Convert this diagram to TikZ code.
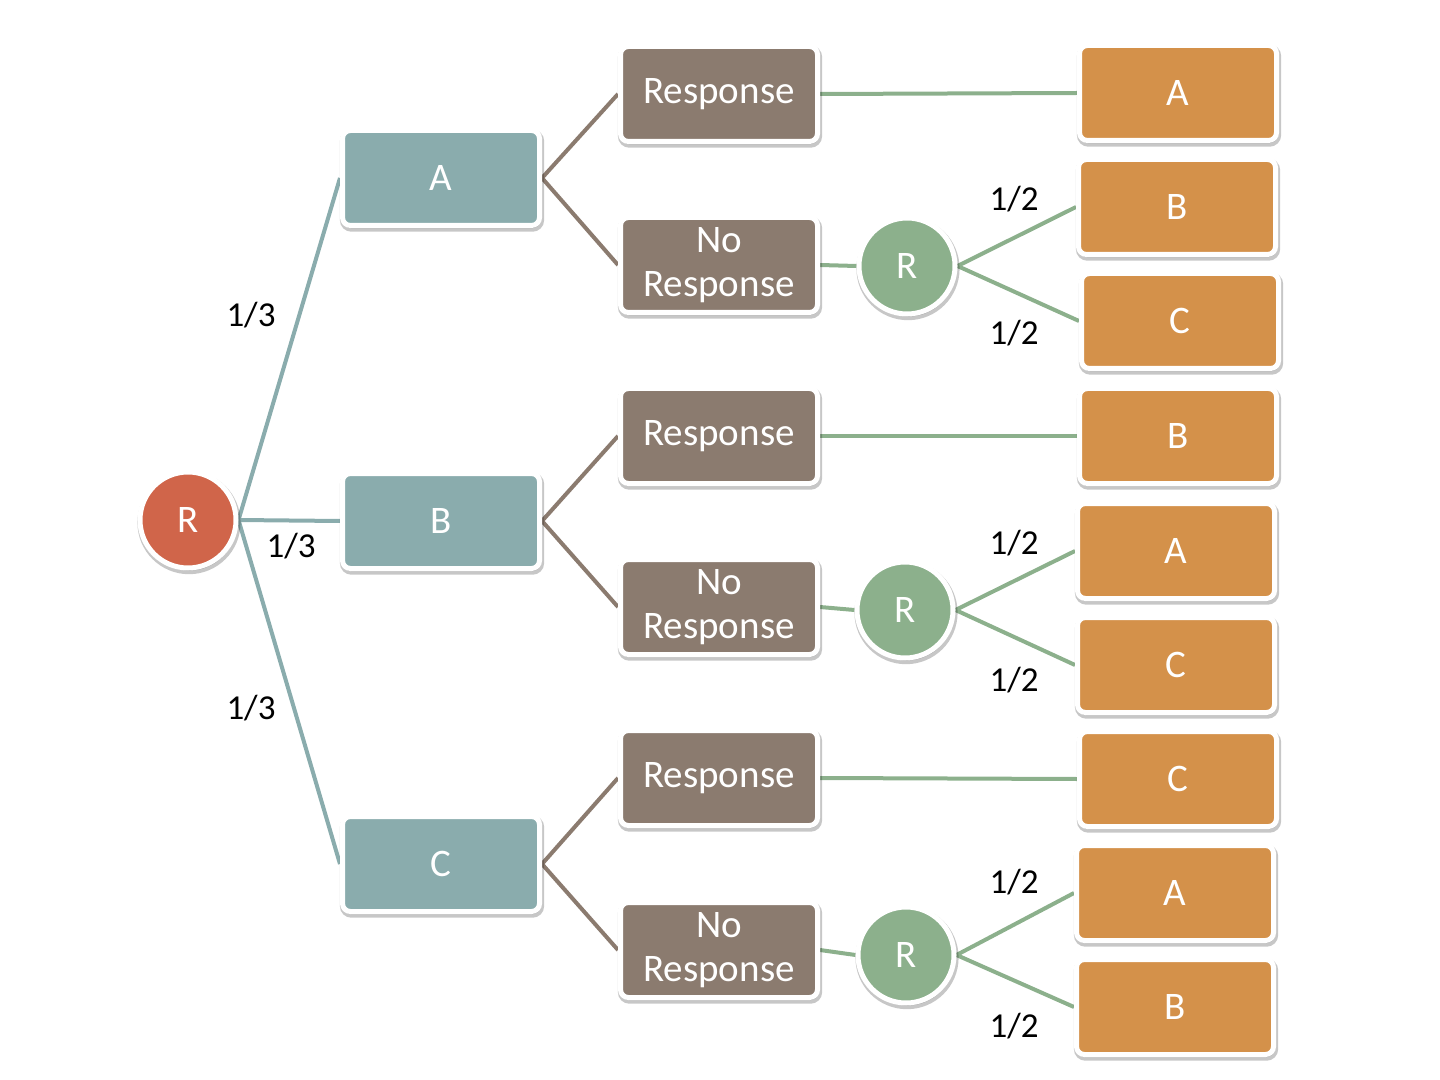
\documentclass[tikz,border=0pt]{standalone}
\usepackage{fontspec}
\setmainfont{Carlito}
\usetikzlibrary{shadows,backgrounds}
\definecolor{rootred}{HTML}{D0654A}
\definecolor{teal1}{HTML}{8AACAD}
\definecolor{brown1}{HTML}{8B7B6F}
\definecolor{green1}{HTML}{8CB08C}
\definecolor{orange1}{HTML}{D4914A}
\tikzset{
  softshadow/.style={drop shadow={opacity=0.22, shadow xshift=0.5pt, shadow yshift=-1.3pt,
    fill=black, draw=black, line width=3.6pt}},
  boxbase/.style={rectangle, rounded corners=4pt, draw=white, line width=2.5pt,
    minimum width=98.5pt, minimum height=47.5pt, inner sep=0pt, align=center,
    text=white, font=\fontsize{19.5}{22}\selectfont, softshadow},
  circbase/.style={circle, draw=white, line width=2.5pt, minimum size=48pt, inner sep=0pt,
    text=white, font=\fontsize{19.5}{22}\selectfont, softshadow},
  lvlone/.style={boxbase, fill=teal1},
  respbox/.style={boxbase, fill=brown1},
  leafbox/.style={boxbase, fill=orange1},
  rootc/.style={circbase, fill=rootred},
  randc/.style={circbase, fill=green1},
  tealline/.style={draw=teal1, line width=2pt},
  brownline/.style={draw=brown1, line width=2pt},
  greenline/.style={draw=green1, line width=2pt},
  prob/.style={font=\fontsize{17.5}{19}\selectfont, text=black, inner sep=0pt}
}
\begin{document}
\begin{tikzpicture}[x=0.5pt,y=-0.5pt]
\useasboundingbox (0,0) rectangle (1440,1080);
% nodes
\node[rootc] (root) at (188,520) {R};
\node[lvlone] (A) at (441,178) {A};
\node[lvlone] (B) at (441,521) {B};
\node[lvlone] (C) at (441,864) {C};

\node[respbox] (Ar) at (719,94) {Response};
\node[respbox] (An) at (719,265) {No\\Response};
\node[respbox] (Br) at (719,436) {Response};
\node[respbox] (Bn) at (719,607) {No\\Response};
\node[respbox] (Cr) at (719,778) {Response};
\node[respbox] (Cn) at (719,950) {No\\Response};

\node[randc] (RA) at (907,266) {R};
\node[randc] (RB) at (905,610) {R};
\node[randc] (RC) at (906,955) {R};

\node[leafbox] (L1) at (1178,93) {A};
\node[leafbox] (L2) at (1177,207) {B};
\node[leafbox] (L3) at (1180,321) {C};
\node[leafbox] (L4) at (1178,436) {B};
\node[leafbox] (L5) at (1176,551) {A};
\node[leafbox] (L6) at (1176,665) {C};
\node[leafbox] (L7) at (1178,779) {C};
\node[leafbox] (L8) at (1175,893) {A};
\node[leafbox] (L9) at (1175,1007) {B};

% labels
\node[prob] (p1) at (251,315) {1/3};
\node[prob] (p2) at (291,546) {1/3};
\node[prob] (p3) at (251,708) {1/3};
\node[prob] (q1) at (1014,199) {1/2};
\node[prob] (q2) at (1014,333) {1/2};
\node[prob] (q3) at (1014,543) {1/2};
\node[prob] (q4) at (1014,680) {1/2};
\node[prob] (q5) at (1014,882) {1/2};
\node[prob] (q6) at (1014,1026) {1/2};

% connectors
\begin{scope}[on background layer]
\draw[tealline] (root.east) -- (A.west);
\draw[tealline] (root.east) -- (B.west);
\draw[tealline] (root.east) -- (C.west);
\foreach \p/\r/\n in {A/Ar/An, B/Br/Bn, C/Cr/Cn}{
  \draw[brownline] (\p.east) -- (\r.west);
  \draw[brownline] (\p.east) -- (\n.west);
}
\draw[greenline] (Ar.east) -- (L1.west);
\draw[greenline] (Br.east) -- (L4.west);
\draw[greenline] (Cr.east) -- (L7.west);
\draw[greenline] (An.east) -- (RA.west);
\draw[greenline] (Bn.east) -- (RB.west);
\draw[greenline] (Cn.east) -- (RC.west);
\draw[greenline] (RA.east) -- (L2.west);
\draw[greenline] (RA.east) -- (L3.west);
\draw[greenline] (RB.east) -- (L5.west);
\draw[greenline] (RB.east) -- (L6.west);
\draw[greenline] (RC.east) -- (L8.west);
\draw[greenline] (RC.east) -- (L9.west);
\end{scope}
\end{tikzpicture}
\end{document}
